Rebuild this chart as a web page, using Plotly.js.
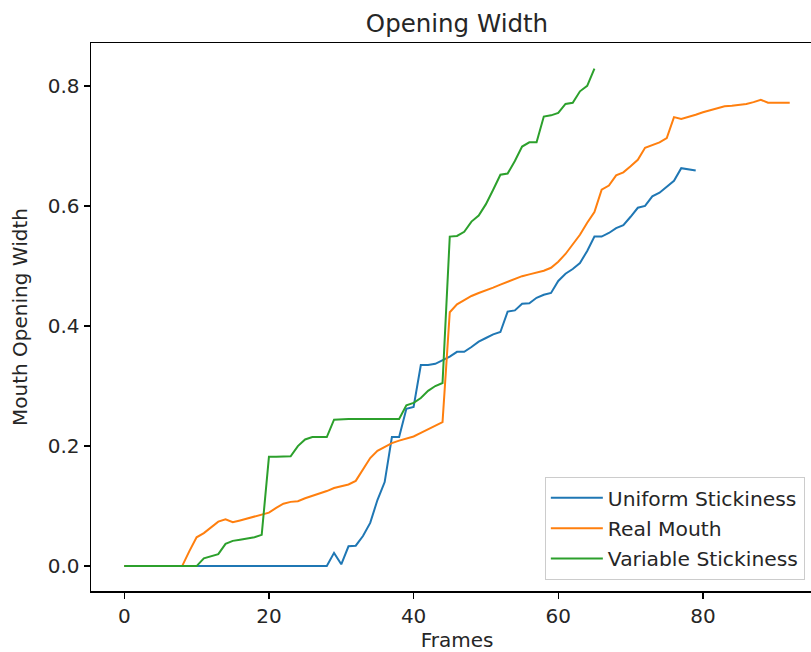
<!DOCTYPE html>
<html>
<head>
<meta charset="utf-8">
<script src="https://cdn.plot.ly/plotly-3.0.1.min.js"></script>
<style>
html, body { margin: 0; padding: 0; overflow: hidden; background: #fff; }
#chart { width: 840px; height: 652px; }
</style>
</head>
<body>
<div id="chart"></div>
<script>
// Series names
const seriesNames = ["Uniform Stickiness", "Real Mouth", "Variable Stickiness"];
const seriesColors = ["#1f77b4", "#ff7f0e", "#2ca02c"];

// Mouth opening width per frame (frame = index)
const uniformStickiness = [
  0,0,0,0,0,0,0,0,0,0,
  0,0,0,0,0,0,0,0,0,0,
  0,0,0,0,0,0,0,0,0,0.022,
  0.003,0.033,0.034,0.05,0.072,0.11,0.14,0.215,0.215,0.262,
  0.265,0.335,0.335,0.337,0.343,0.349,0.357,0.357,0.365,0.374,
  0.38,0.386,0.39,0.424,0.426,0.437,0.438,0.447,0.452,0.455,
  0.475,0.487,0.495,0.505,0.525,0.549,0.549,0.555,0.563,0.568,
  0.582,0.597,0.6,0.616,0.622,0.632,0.642,0.663,0.661,0.659
];

const realMouth = [
  0,0,0,0,0,0,0,0,0,0.025,
  0.048,0.055,0.065,0.074,0.078,0.073,0.076,0.079,0.082,0.085,
  0.089,0.097,0.104,0.107,0.108,0.113,0.117,0.12,0.125,0.13,
  0.133,0.136,0.142,0.162,0.18,0.192,0.199,0.205,0.209,0.212,
  0.216,0.222,0.228,0.235,0.24,0.423,0.436,0.443,0.45,0.455,
  0.459,0.464,0.469,0.474,0.479,0.483,0.486,0.489,0.492,0.497,
  0.507,0.52,0.535,0.552,0.572,0.59,0.627,0.634,0.651,0.656,
  0.666,0.677,0.697,0.701,0.706,0.713,0.748,0.745,0.748,0.752,
  0.756,0.759,0.763,0.766,0.767,0.768,0.77,0.773,0.777,0.772,
  0.772,0.772,0.772
];

const variableStickiness = [
  0,0,0,0,0,0,0,0,0,0,
  0,0.013,0.017,0.02,0.037,0.042,0.044,0.046,0.048,0.052,
  0.182,0.182,0.182,0.183,0.2,0.211,0.215,0.215,0.215,0.244,
  0.245,0.245,0.245,0.245,0.245,0.245,0.245,0.245,0.245,0.268,
  0.272,0.28,0.292,0.3,0.305,0.549,0.55,0.557,0.574,0.584,
  0.603,0.627,0.652,0.654,0.675,0.699,0.706,0.706,0.749,0.751,
  0.755,0.77,0.772,0.791,0.8,0.829
];

const xTicks = [0, 20, 40, 60, 80];
const yTicks = [0.0, 0.2, 0.4, 0.6, 0.8];
const yTickLabels = ["0.0", "0.2", "0.4", "0.6", "0.8"];

const allSeries = [uniformStickiness, realMouth, variableStickiness];
const font = "DejaVu Sans, Verdana, sans-serif";
const txt = "#262626";

const traces = allSeries.map((vals, i) => ({
  type: "scatter",
  mode: "lines",
  name: seriesNames[i],
  legendgroup: "g" + i,
  x: vals.map((_, k) => k),
  y: vals,
  line: { color: seriesColors[i], width: 2 }
}));

const layout = {
  width: 840,
  height: 652,
  margin: { l: 91, r: 17, t: 43, b: 61 },
  paper_bgcolor: "#fff",
  plot_bgcolor: "#fff",
  font: { family: font, size: 20, color: txt },
  title: {
    text: "Opening Width",
    font: { family: font, size: 24.5, color: txt },
    x: 0.5, xref: "paper", xanchor: "center",
    y: 0.964, yref: "container", yanchor: "middle"
  },
  xaxis: {
    range: [-4.6, 96.6],
    tickvals: xTicks,
    ticktext: xTicks.map(String),
    ticks: "outside", ticklen: 6, tickwidth: 1.2, tickcolor: "#000",
    showline: true, mirror: true, linecolor: "#000", linewidth: 1.5,
    showgrid: false, zeroline: false,
    tickfont: { family: font, size: 20, color: txt },
    title: { text: "Frames", font: { family: font, size: 20, color: txt }, standoff: 9 }
  },
  yaxis: {
    range: [-0.0415, 0.8715],
    tickvals: yTicks,
    ticktext: yTickLabels,
    ticks: "outside", ticklen: 6, tickwidth: 1.2, tickcolor: "#000",
    showline: true, mirror: true, linecolor: "#000", linewidth: 1.5,
    showgrid: false, zeroline: false,
    tickfont: { family: font, size: 20, color: txt },
    title: { text: "Mouth Opening Width", font: { family: font, size: 20, color: txt }, standoff: 14 }
  },
  showlegend: true,
  legend: {
    x: 0.62, xanchor: "left", xref: "paper",
    y: 0.02, yanchor: "bottom", yref: "paper",
    bgcolor: "rgba(255,255,255,0.85)",
    bordercolor: "#cccccc", borderwidth: 1,
    font: { family: font, size: 20.3, color: txt },
    tracegroupgap: 1,
    itemwidth: 52
  }
};

Plotly.newPlot("chart", traces, layout, { displayModeBar: false, staticPlot: true });
</script>
</body>
</html>
